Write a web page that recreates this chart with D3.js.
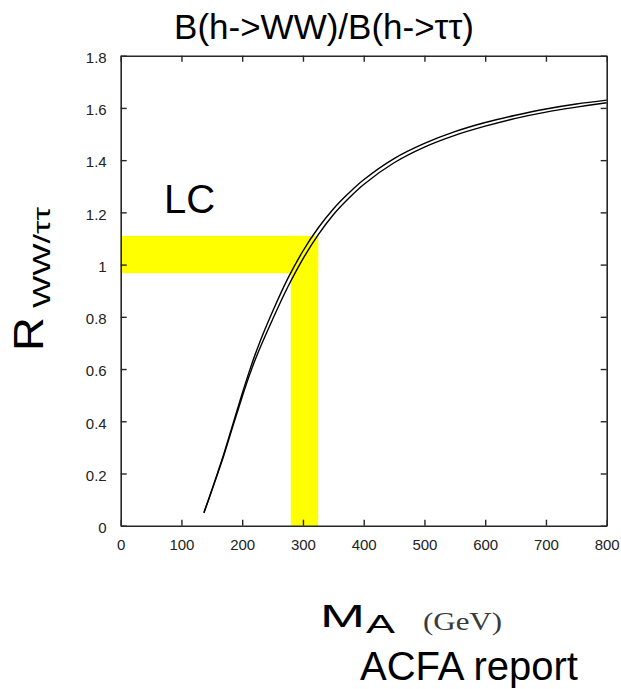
<!DOCTYPE html>
<html>
<head>
<meta charset="utf-8">
<script src="https://cdn.jsdelivr.net/npm/d3@7"></script>
<style>
  html, body { margin: 0; padding: 0; background: #fff; }
  svg { display: block; }
</style>
</head>
<body>
<svg id="chart" width="621" height="689" font-family="'Liberation Sans', Arial, sans-serif"></svg>
<script>
// ---- data ----
const massA = [137, 145, 160, 170, 186, 200, 212, 225, 250, 275, 300, 325, 350, 375, 400, 450, 500, 550, 600, 650, 700, 750, 800];
const rUpper = [0.050, 0.103, 0.206, 0.277, 0.399, 0.506, 0.593, 0.679, 0.820, 0.946, 1.052, 1.140, 1.213, 1.273, 1.325, 1.406, 1.464, 1.509, 1.544, 1.572, 1.596, 1.615, 1.630];
const rLower = [0.050, 0.101, 0.202, 0.271, 0.391, 0.494, 0.577, 0.657, 0.790, 0.914, 1.022, 1.114, 1.191, 1.253, 1.307, 1.390, 1.450, 1.495, 1.530, 1.560, 1.584, 1.603, 1.620];
const xTicks = [0, 100, 200, 300, 400, 500, 600, 700, 800];
const yTicks = [0, 0.2, 0.4, 0.6, 0.8, 1, 1.2, 1.4, 1.6, 1.8];
const yTickLabels = ["0", "0.2", "0.4", "0.6", "0.8", "1", "1.2", "1.4", "1.6", "1.8"];
const bandMA = [280, 325];      // vertical yellow band (MA range)
const bandR = [0.967, 1.11];   // horizontal yellow band (R range)
const titleText = "B(h->WW)/B(h->ττ)";
const annotText = "LC";
const sourceText = "ACFA report";

// ---- layout ----
const svg = d3.select("#chart");
const x = d3.scaleLinear().domain([0, 800]).range([120.7, 606.7]);
const y = d3.scaleLinear().domain([0, 1.8]).range([525.7, 55.7]);
const axisColor = "#262626";
const sans = "'Liberation Sans', Arial, sans-serif";
const serif = "'Liberation Serif', 'Times New Roman', serif";

// yellow bands
svg.append("rect")
  .attr("x", x(0)).attr("width", x(bandMA[1]) - x(0))
  .attr("y", y(bandR[1])).attr("height", y(bandR[0]) - y(bandR[1]))
  .attr("fill", "#ffff00");
svg.append("rect")
  .attr("x", x(bandMA[0])).attr("width", x(bandMA[1]) - x(bandMA[0]))
  .attr("y", y(bandR[1])).attr("height", y(0) - y(bandR[1]))
  .attr("fill", "#ffff00");

// curves
const pts = (arr) => massA.map((m, i) => [m, arr[i]]);
const line = d3.line().x(d => x(d[0])).y(d => y(d[1])).curve(d3.curveCatmullRom.alpha(0.5));
[rUpper, rLower].forEach(arr => {
  svg.append("path").attr("d", line(pts(arr)))
    .attr("fill", "none").attr("stroke", "#000").attr("stroke-width", 1.4);
});

// axes (inward ticks on all 4 sides)
const tl = 6;
const fmtY = (d) => yTickLabels[yTicks.indexOf(d)];
const gB = svg.append("g").attr("transform", `translate(0,${y(0)})`)
  .call(d3.axisBottom(x).tickValues(xTicks).tickSizeInner(-tl).tickSizeOuter(0).tickPadding(14).tickFormat(d3.format("d")));
const gT = svg.append("g").attr("transform", `translate(0,${y(1.8)})`)
  .call(d3.axisTop(x).tickValues(xTicks).tickSizeInner(-tl).tickSizeOuter(0).tickFormat(""));
const gL = svg.append("g").attr("transform", `translate(${x(0)},0)`)
  .call(d3.axisLeft(y).tickValues(yTicks).tickSizeInner(-tl).tickSizeOuter(0).tickPadding(14).tickFormat(fmtY));
const gR = svg.append("g").attr("transform", `translate(${x(800)},0)`)
  .call(d3.axisRight(y).tickValues(yTicks).tickSizeInner(-tl).tickSizeOuter(0).tickFormat(""));
[gB, gT, gL, gR].forEach(g => {
  g.attr("font-family", sans).attr("font-size", 15);
  g.select(".domain").attr("stroke", axisColor).attr("stroke-width", 1.6);
  g.selectAll(".tick line").attr("stroke", axisColor).attr("stroke-width", 1.4);
  g.selectAll(".tick text").attr("fill", "#222");
});
gL.selectAll(".tick text").attr("dy", "0.45em");

// title
svg.append("text").attr("x", 324).attr("y", 38.5).attr("text-anchor", "middle")
  .attr("font-size", 35).attr("fill", "#000").text(titleText);

// LC annotation
svg.append("text").attr("x", 164).attr("y", 213).attr("font-size", 40).attr("fill", "#000").text(annotText);

// y-axis label R_{WW/ττ}
const yl = svg.append("g").attr("transform", "translate(43,348) rotate(-90)");
yl.append("text").attr("x", -3).attr("y", 0).attr("font-size", 42).attr("fill", "#000")
  .attr("textLength", 34).attr("lengthAdjust", "spacingAndGlyphs").text("R");
yl.append("text").attr("x", 40).attr("y", 7).attr("font-size", 24).attr("fill", "#000")
  .attr("textLength", 101).attr("lengthAdjust", "spacingAndGlyphs").text("WW/ττ");

// x-axis label M_A (GeV)
svg.append("text").attr("x", 320).attr("y", 627).attr("font-size", 32).attr("fill", "#000")
  .attr("textLength", 45).attr("lengthAdjust", "spacingAndGlyphs").text("M");
svg.append("text").attr("x", 366).attr("y", 633).attr("font-size", 26).attr("fill", "#000")
  .attr("textLength", 29).attr("lengthAdjust", "spacingAndGlyphs").text("A");
svg.append("text").attr("x", 423).attr("y", 630).attr("font-size", 25).attr("fill", "#3a3a3a")
  .attr("font-family", serif)
  .attr("textLength", 79).attr("lengthAdjust", "spacingAndGlyphs").text("(GeV)");

// source
svg.append("text").attr("x", 360).attr("y", 680).attr("font-size", 40).attr("fill", "#000").text(sourceText);
</script>
</body>
</html>
